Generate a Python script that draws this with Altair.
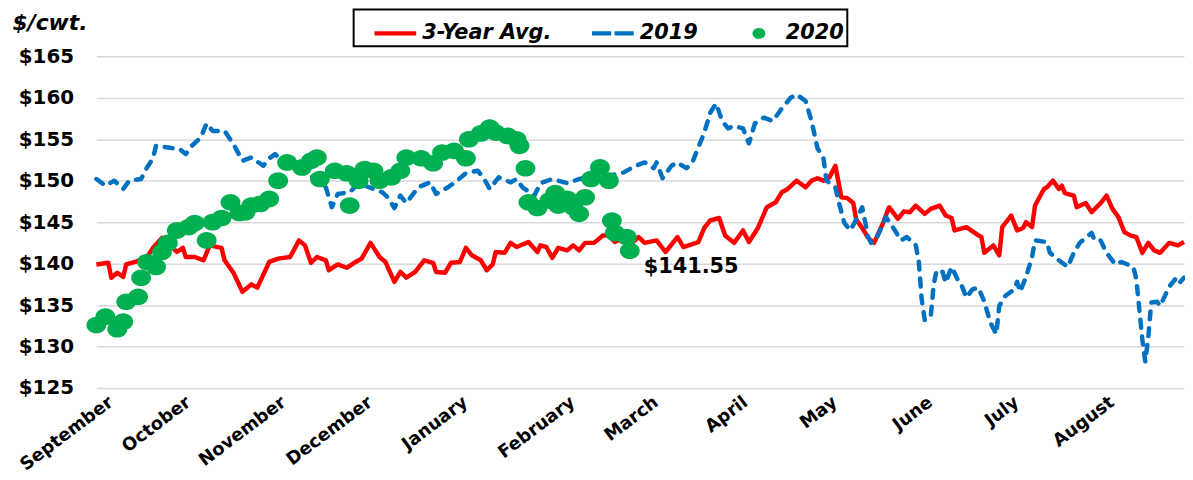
import altair as alt
import pandas as pd

# ---------------- data (x = day position along the season axis, y = $/cwt) ----------------
avg_day = [0, 4, 5, 7, 9, 10, 13, 17, 19, 22, 24, 27, 29, 30, 33, 36, 38, 42, 43, 46, 49, 52, 54, 58, 61, 65,
           68, 70, 72, 74, 77, 78, 81, 84, 87, 89, 92, 95, 97, 100, 102, 104, 107, 110, 113, 114, 117, 119, 122,
           124, 126, 129, 131, 133, 134, 137, 139, 141, 145, 148, 149, 151, 153, 155, 158, 160, 162, 164, 167,
           170, 172, 174, 177, 180, 182, 184, 188, 191, 195, 197, 202, 204, 206, 209, 211, 214, 217, 219, 222,
           225, 228, 230, 232, 235, 238, 240, 242, 244, 246, 248, 250, 252, 254, 255, 257, 259, 261, 264, 266,
           269, 271, 273, 275, 278, 280, 283, 285, 287, 288, 292, 296, 297, 298, 301, 303, 304, 307, 309, 311,
           312, 314, 315, 318, 319, 321, 323, 324, 325, 328, 329, 332, 334, 337, 339, 341, 343, 345, 347, 349,
           351, 353, 355, 357, 360, 363, 365]
avg_val = [139.9, 140.1, 138.3, 138.9, 138.4, 139.9, 140.2, 140.8, 141.9, 143.1, 142.5, 141.4, 141.9, 140.8,
           140.8, 140.4, 142.2, 141.9, 140.4, 138.9, 136.6, 137.5, 137.1, 140.2, 140.6, 140.8, 142.8, 142.2,
           140.1, 140.8, 140.4, 139.2, 139.9, 139.5, 140.2, 140.6, 142.5, 140.8, 140.2, 137.8, 139.0, 138.3,
           139.0, 140.4, 140.1, 139.0, 138.9, 140.1, 140.2, 141.9, 141.0, 140.4, 139.2, 139.9, 141.4, 141.3,
           142.5, 142.0, 142.6, 141.4, 142.2, 142.0, 140.7, 141.9, 141.6, 142.2, 141.6, 142.5, 142.5, 143.4,
           143.4, 142.6, 143.1, 142.6, 143.2, 142.5, 142.8, 141.4, 143.2, 142.0, 142.6, 144.3, 145.2, 145.5,
           143.4, 142.5, 144.0, 142.6, 144.3, 146.8, 147.4, 148.6, 149.0, 150.0, 149.2, 150.0, 150.3, 150.0,
           150.4, 151.8, 148.0, 147.9, 147.3, 145.3, 144.3, 143.1, 142.5, 144.9, 146.8, 145.4, 146.3, 146.2,
           147.0, 146.0, 146.6, 147.0, 145.8, 145.5, 144.0, 144.4, 143.4, 143.2, 141.3, 142.2, 141.0, 144.4,
           145.8, 144.0, 144.3, 145.0, 144.4, 147.0, 149.0, 149.2, 150.0, 149.0, 149.4, 148.5, 148.2, 146.8,
           147.3, 146.2, 147.3, 148.2, 146.6, 145.6, 143.8, 143.4, 143.2, 141.3, 142.5, 141.6, 141.3, 142.5,
           142.2, 142.6]

y19_day = [0, 3, 6, 9, 11, 15, 17, 19, 20, 24, 28, 30, 32, 35, 37, 39, 43, 46, 49, 52, 56, 58, 60, 62, 66, 69,
           72, 77, 79, 81, 85, 88, 93, 96, 98, 100, 102, 104, 108, 112, 114, 118, 121, 124, 128, 130, 132, 135,
           139, 141, 143, 147, 149, 153, 158, 162, 165, 169, 172, 177, 181, 184, 187, 188, 190, 193, 195, 198,
           200, 202, 204, 206, 208, 210, 212, 214, 217, 219, 221, 224, 227, 230, 233, 235, 238, 240, 242, 244,
           245, 248, 249, 251, 253, 255, 257, 259, 260, 262, 265, 268, 270, 272, 275, 276, 277, 278, 280, 281,
           282, 284, 285, 287, 289, 290, 292, 294, 296, 298, 300, 302, 303, 305, 308, 309, 310, 312, 314, 315,
           319, 320, 323, 326, 328, 330, 334, 335, 337, 339, 342, 344, 348, 349, 350, 351, 352, 353, 354, 356,
           357, 360, 362, 363, 365]
y19_val = [150.2, 149.4, 150.0, 149.0, 150.0, 150.2, 151.6, 152.7, 154.2, 154.0, 153.8, 153.2, 154.2, 155.2,
           156.9, 156.0, 156.0, 154.4, 152.4, 152.8, 151.8, 152.7, 153.2, 152.4, 152.0, 151.0, 150.6, 149.2,
           146.8, 148.4, 148.6, 149.7, 149.0, 148.6, 147.9, 146.7, 148.2, 147.3, 149.2, 149.8, 148.4, 149.2,
           150.0, 150.9, 151.2, 150.3, 149.0, 150.4, 149.8, 150.2, 149.2, 148.2, 149.7, 150.2, 149.7, 150.2,
           150.4, 150.0, 150.6, 151.0, 151.8, 152.2, 151.5, 152.2, 150.3, 151.8, 152.2, 151.5, 152.2, 154.0,
           155.8, 158.2, 159.3, 157.2, 156.3, 156.6, 156.3, 154.5, 156.9, 157.6, 157.2, 158.7, 160.0, 160.4,
           159.6, 157.2, 153.9, 152.7, 150.0, 149.2, 147.6, 144.9, 144.0, 145.3, 146.8, 143.2, 142.5, 143.2,
           145.6, 144.0, 142.8, 143.2, 142.2, 140.2, 135.6, 133.2, 133.6, 137.5, 139.2, 139.0, 137.7, 139.6,
           138.1, 137.7, 135.9, 136.9, 137.1, 135.4, 132.9, 131.5, 134.9, 136.1, 136.9, 137.8, 136.6, 138.4,
           140.8, 142.8, 142.6, 141.3, 140.4, 139.6, 141.3, 142.5, 143.7, 142.8, 142.8, 141.3, 139.9, 140.2,
           139.6, 138.1, 134.5, 130.9, 128.2, 131.1, 135.3, 135.4, 134.9, 137.2, 138.1, 137.5, 138.3]

y20_day = [0, 3, 7, 9, 10, 14, 15, 17, 20, 22, 24, 27, 31, 33, 37, 39, 42, 45, 48, 50, 52, 55, 58, 61, 64, 69,
           72, 74, 75, 80, 84, 85, 88, 90, 93, 95, 99, 102, 104, 109, 113, 116, 120, 124, 125, 129, 132, 134,
           138, 141, 142, 144, 145, 148, 152, 154, 155, 158, 160, 162, 164, 166, 169, 172, 173, 174, 178, 179]
y20_val = [132.6, 133.6, 132.1, 133.0, 135.4, 136.0, 138.3, 140.2, 139.6, 141.4, 142.5, 144.0, 144.4, 144.9,
           142.8, 145.0, 145.5, 147.4, 146.1, 146.2, 147.0, 147.2, 147.8, 150.0, 152.2, 151.6, 152.4, 152.8,
           150.2, 151.2, 150.9, 147.0, 150.0, 151.4, 151.2, 150.0, 150.4, 151.2, 152.8, 152.7, 152.1, 153.4,
           153.6, 152.7, 155.0, 155.7, 156.4, 155.8, 155.4, 155.0, 154.2, 151.5, 147.4, 146.7, 147.6, 148.5,
           147.0, 147.8, 146.8, 146.0, 148.0, 150.2, 151.6, 150.0, 145.2, 143.7, 143.2, 141.55]

series_names = ["3-Year Avg.", "2019", "2020"]
series_colors = ["#ff0000", "#0070c0", "#00b050"]

month_names = ["September", "October", "November", "December", "January", "February",
               "March", "April", "May", "June", "July", "August"]
month_ticks = [3, 29, 61, 90, 122, 158, 186, 216, 246, 278, 307, 339]
y_ticks = [125, 130, 135, 140, 145, 150, 155, 160, 165]

# ---------------- tables ----------------
df_avg = pd.DataFrame({"day": avg_day, "value": avg_val, "series": series_names[0]})
df_19 = pd.DataFrame({"day": y19_day, "value": y19_val, "series": series_names[1]})
df_20 = pd.DataFrame({"day": y20_day, "value": y20_val, "series": series_names[2]})
df_last = df_20.tail(1)

FONT = "DejaVu Sans"

# legend symbol shapes (unit-square paths): solid bar, dashed bar, small dot
shape_solid = "M-1,-0.1H1V0.1H-1Z"
shape_dash = "M-1,-0.1H-0.08V0.1H-1Z M0.08,-0.1H1V0.1H0.08Z"
shape_dot = "M-0.31,0A0.31,0.26 0 1,1 0.31,0A0.31,0.26 0 1,1 -0.31,0Z"

label_expr = "[" + ",".join("'%s'" % m for m in month_names) + "][indexof([" + \
    ",".join(str(t) for t in month_ticks) + "], datum.value)]"

xscale = alt.Scale(domain=[0, 365], nice=False, zero=False)
yscale = alt.Scale(domain=[125, 165], nice=False, zero=False)

xaxis = alt.Axis(values=month_ticks, labelExpr=label_expr, labelAngle=-37, labelAlign="right",
                 labelBaseline="top", labelFont=FONT, labelFontWeight="bold", labelFontSize=18,
                 labelColor="black", ticks=False, tickSize=0, domain=False, grid=False,
                 labelPadding=5, labelOverlap=False, labelFlush=False, labelBound=False, title=None)
yaxis = alt.Axis(values=y_ticks, labelExpr="'$' + datum.value", labelFont=FONT, labelFontWeight="bold",
                 labelFontSize=20, labelColor="black", labelPadding=23, ticks=False, tickSize=0,
                 domain=False, grid=True, gridColor="#d9d9d9", gridWidth=1.5,
                 title="$/cwt.", titleAngle=0, titleX=-85, titleY=-34, titleAlign="left",
                 titleBaseline="middle", titleFont=FONT, titleFontSize=22, titleFontStyle="italic",
                 titleFontWeight="bold", titleColor="black")

X = alt.X("day:Q", scale=xscale, axis=xaxis)
Y = alt.Y("value:Q", scale=yscale, axis=yaxis)

legend = alt.Legend(title=None, orient="none", legendX=259, legendY=-47, direction="horizontal",
                    symbolSize=1764, symbolStrokeWidth=0, symbolOffset=18, labelOffset=6,
                    columnPadding=22, padding=3, labelFont=FONT, labelFontSize=21,
                    labelFontStyle="italic", labelFontWeight="bold", labelColor="black",
                    fillColor="white", strokeColor="black")

line_avg = alt.Chart(df_avg).mark_line(color=series_colors[0], strokeWidth=4.5, strokeJoin="round").encode(
    x=X, y=Y)
line_19 = alt.Chart(df_19).mark_line(color=series_colors[1], strokeWidth=4.5, strokeDash=[8, 9],
                                     strokeCap="round", strokeJoin="round").encode(x=X, y=Y)
pts_20 = alt.Chart(df_20).mark_point(filled=True, opacity=1, size=4160, strokeWidth=0).encode(
    x=X, y=Y,
    color=alt.Color("series:N", scale=alt.Scale(domain=series_names, range=series_colors), legend=legend),
    shape=alt.Shape("series:N", scale=alt.Scale(domain=series_names,
                                                range=[shape_solid, shape_dash, shape_dot]), legend=legend),
)
last_label = alt.Chart(df_last).mark_text(align="left", baseline="middle", dx=14, dy=16, font=FONT,
                                          fontSize=21, fontWeight="bold", color="black").encode(
    x=X, y=Y, text=alt.Text("value:Q", format="$.2f"))

chart = alt.layer(line_avg, line_19, pts_20, last_label).properties(
    width=1095, height=334,
    padding={"left": 89, "top": 47, "right": 1, "bottom": 90},
    autosize=alt.AutoSizeParams(type="none"),
).configure_view(stroke=None).configure_legend(strokeWidth=2)

chart.save("out.html", embed_options={"renderer": "svg", "actions": False})
